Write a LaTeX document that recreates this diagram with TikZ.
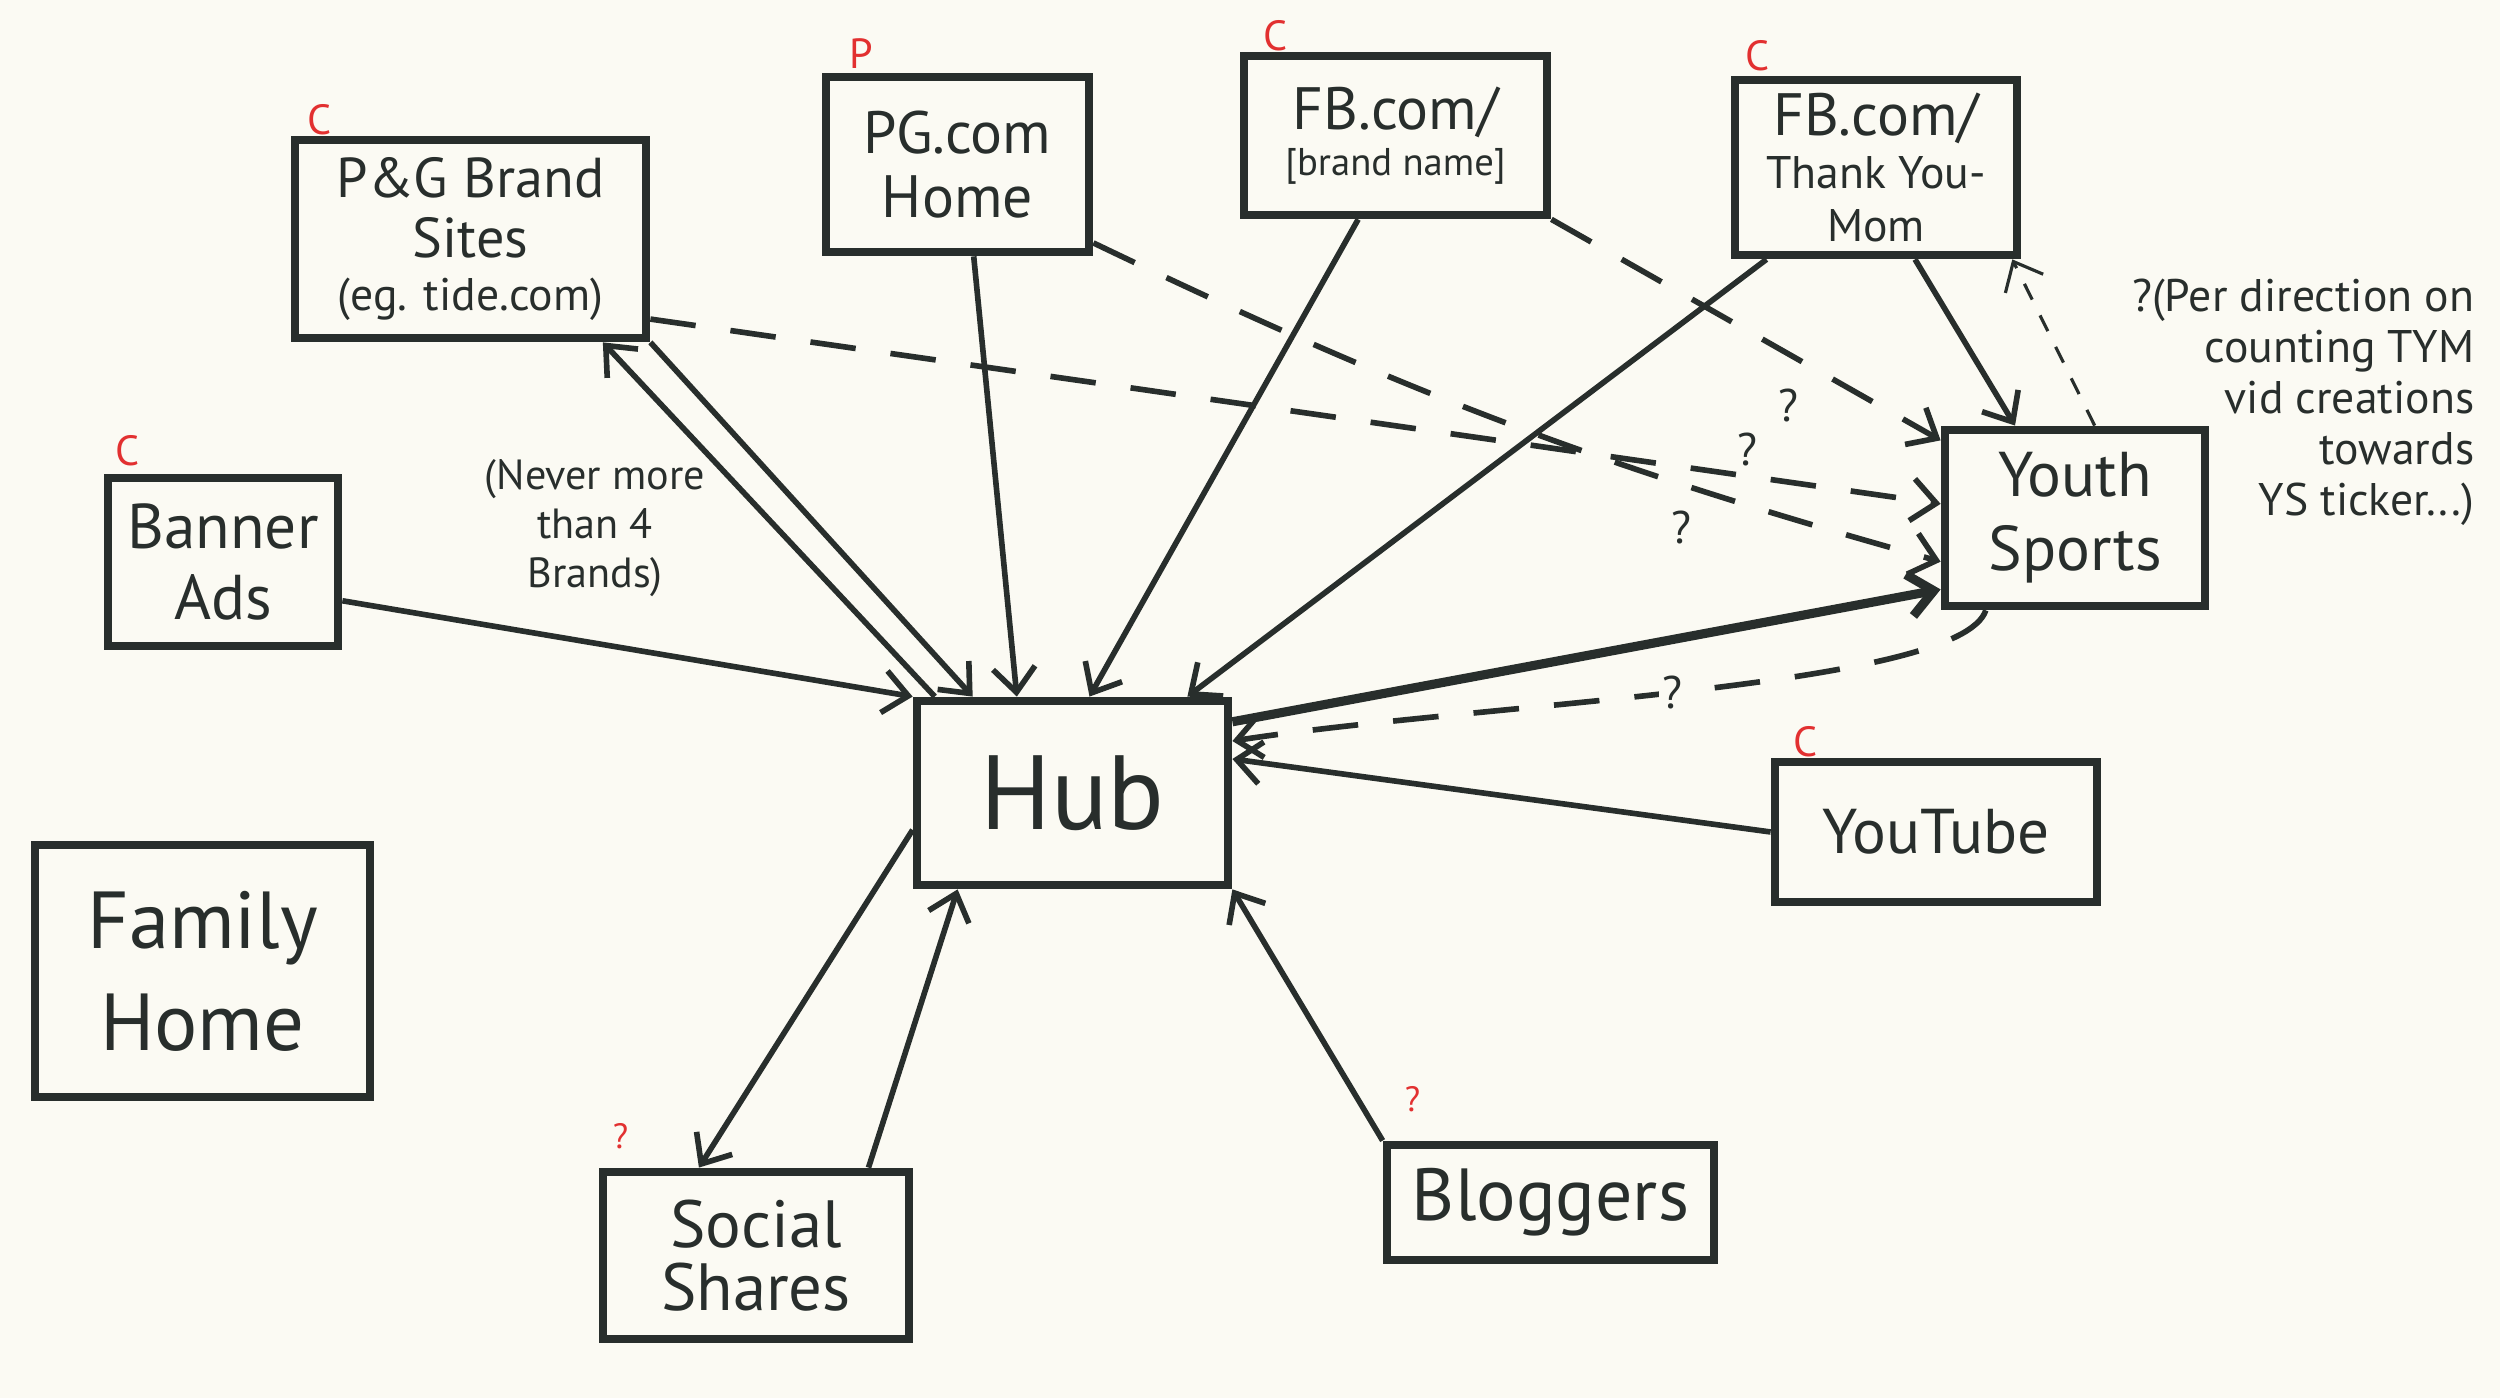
\documentclass[tikz,border=0pt]{standalone}
\usepackage{fontspec}
\setmainfont{PT Sans}
\usepackage{tikz}
\usetikzlibrary{arrows.meta,positioning}

\definecolor{ink}{RGB}{40,46,44}
\definecolor{paper}{RGB}{251,250,243}
\definecolor{pen}{RGB}{226,48,48}

\begin{document}
\begin{tikzpicture}[>={Straight Barb[length=7pt,width=12pt]},
  every node/.style = {text=ink, align=center, inner sep=0pt},
  box/.style = {shape=rectangle, draw=ink, line width=2.5pt},
  tag/.style = {text=pen, font=\fontsize{12}{12}\selectfont},
  link/.style = {draw=ink, line width=1.6pt, ->},
  maybe/.style = {link, dash pattern=on 13pt off 10pt},
  ask/.style = {font=\fontsize{13}{13}\selectfont, inner sep=2pt}]
  \useasboundingbox (0,0) rectangle (25,13.98);
  \fill[paper] (0,0) rectangle (25,13.98);

  \node[box, minimum width=3.11cm, minimum height=1.84cm,
    font=\fontsize{30}{30}\selectfont] (hub) at (10.725,6.05) {Hub};
  \node[box, minimum width=3.51cm, minimum height=1.98cm,
    font=\fontsize{16}{17}\selectfont] (pgbrand) at (4.705,11.59)
    {P\&G Brand\\Sites\\[-2pt]{\fontsize{13}{14}\selectfont(eg. tide.com)}};
  \node[box, minimum width=2.63cm, minimum height=1.75cm,
    font=\fontsize{17}{18}\selectfont] (pghome) at (9.575,12.335) {PG.com\\Home};
  \node[box, minimum width=3.03cm, minimum height=1.59cm,
    font=\fontsize{17}{13}\selectfont] (fbbrand) at (13.955,12.625)
    {FB.com/\\{\fontsize{11}{11}\selectfont[brand name]}};
  \node[box, minimum width=2.82cm, minimum height=1.75cm,
    font=\fontsize{13}{15}\selectfont] (fbtym) at (18.76,12.305)
    {{\fontsize{17}{17}\selectfont FB.com/}\\Thank You-\\Mom};
  \node[box, minimum width=2.60cm, minimum height=1.76cm,
    font=\fontsize{18}{21}\selectfont] (youth) at (20.75,8.80) {Youth\\Sports};
  \node[box, minimum width=3.22cm, minimum height=1.40cm,
    font=\fontsize{18}{18}\selectfont] (youtube) at (19.36,5.66) {YouTube};
  \node[box, minimum width=2.30cm, minimum height=1.68cm,
    font=\fontsize{18}{20}\selectfont] (banner) at (2.23,8.36) {Banner\\Ads};
  \node[box, minimum width=3.35cm, minimum height=2.52cm,
    font=\fontsize{23}{29}\selectfont] (family) at (2.025,4.27) {Family\\Home};
  \node[box, minimum width=3.06cm, minimum height=1.67cm,
    font=\fontsize{19}{18}\selectfont] (social) at (7.56,1.425) {Social\\Shares};
  \node[box, minimum width=3.27cm, minimum height=1.15cm,
    font=\fontsize{21}{21}\selectfont] (bloggers) at (15.505,1.955) {Bloggers};

  \node[tag, above=0pt of pgbrand.north west, xshift=2.9mm] (pgbrandtag) {C};
  \node[tag, above=1pt of pghome.north west, xshift=4mm] (pghometag) {P};
  \node[tag, above=0pt of fbbrand.north west, xshift=3.6mm] (fbbrandtag) {C};
  \node[tag, above=1pt of fbtym.north west, xshift=2.7mm] (fbtymtag) {C};
  \node[tag, above=2pt of banner.north west, xshift=2.4mm] (bannertag) {C};
  \node[tag, above=0pt of youtube.north west, xshift=3.5mm] (youtubetag) {C};
  \node[tag, font=\fontsize{10}{10}\selectfont, above=5pt of social.north west,
    xshift=2.2mm] (socialtag) {?};
  \node[tag, font=\fontsize{10}{10}\selectfont, above=8pt of bloggers.north west,
    xshift=3mm] (bloggerstag) {?};

  \node[font=\fontsize{12}{14}\selectfont] (never) at (5.95,8.70)
    {(Never more\\than 4\\Brands)};
  \node[font=\fontsize{13}{14.5}\selectfont, align=right, anchor=east] (note)
    at (24.75,9.96)
    {?(Per direction on\\counting TYM\\vid creations\\towards\\YS ticker...)};

  \draw[link] (banner.-18) -- (hub.north west);
  \draw[link] (pgbrand.south east) -- (hub.136);
  \draw[link] (hub.145) -- (pgbrand.322);
  \draw[link] (pghome.280) -- (hub.120);
  \draw[link] (fbbrand.246) -- (hub.80);
  \draw[link] (fbtym.220) -- (hub.40);
  \draw[link] (fbtym.293) -- (youth.123);
  \draw[link, line width=2.6pt] (hub.24) -- (youth.208);
  \draw[link] (youtube.west) -- (hub.12);
  \draw[link] (hub.193) -- (social.123);
  \draw[link] (social.38) -- (hub.220);
  \draw[link] (bloggers.north west) -- (hub.south east);

  \draw[maybe] (pgbrand.-24) -- node[ask, pos=0.85, above] {?} (youth.174);
  \draw[maybe] (pghome.-30) to[bend right=5]
    node[ask, pos=0.74, below left=3pt and 0pt] {?} (youth.198);
  \draw[maybe] (fbbrand.south east) -- node[ask, pos=0.61, below=7pt] {?} (youth.150);
  \draw[maybe] (youth.226) .. controls (19.6,7.1) and (14.78,6.95) ..
    node[ask, pos=0.52, fill=paper, inner sep=1pt] {?} (hub.18);
  \draw[link, line width=0.9pt, dash pattern=on 5pt off 5pt] (youth.78) -- (fbtym.326);
\end{tikzpicture}
\end{document}
